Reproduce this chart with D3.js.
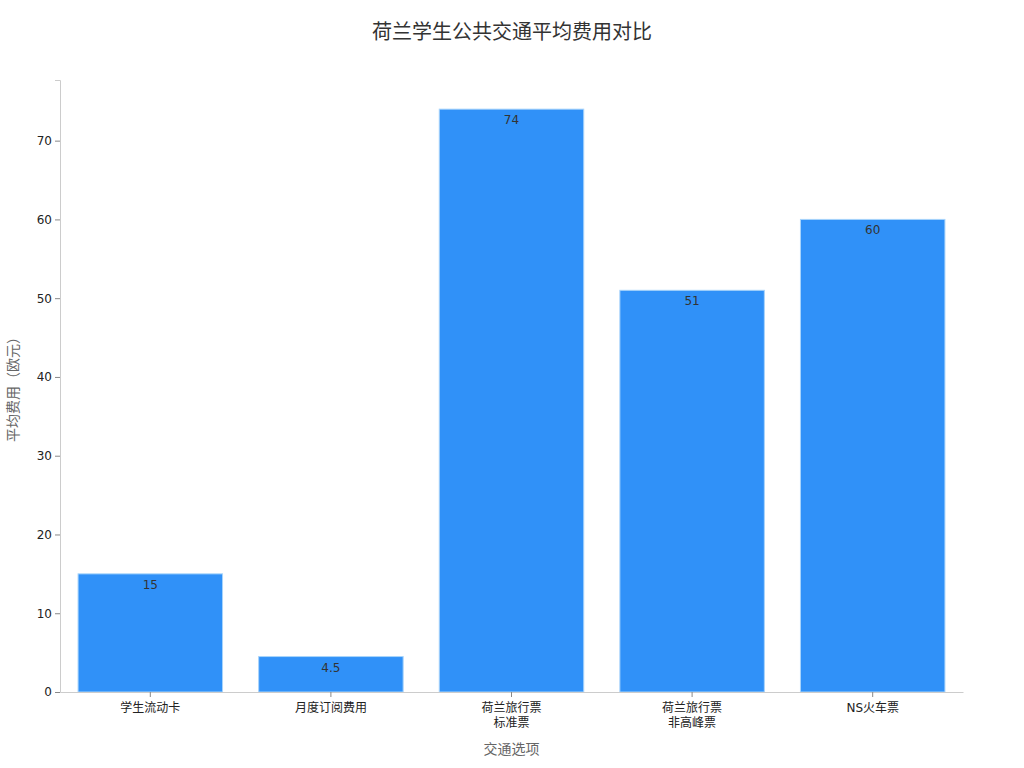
<!DOCTYPE html>
<html>
<head>
<meta charset="utf-8">
<script src="https://cdn.jsdelivr.net/npm/d3@7"></script>
<style>
  body { margin: 0; background: #fff; }
  svg text { font-family: "DejaVu Sans", "Noto Sans CJK SC", sans-serif; }
</style>
</head>
<body>
<div class="chart"></div>
<script>
// chart data
var categories = ["学生流动卡", "月度订阅费用", "荷兰旅行票\n标准票", "荷兰旅行票\n非高峰票", "NS火车票"];
var costs = [15, 4.5, 74, 51, 60];
var valueLabels = ["15", "4.5", "74", "51", "60"];
var yTicks = [0, 10, 20, 30, 40, 50, 60, 70];

var width = 1024;
var height = 768;
var margin = {top: 80, right: 61, bottom: 76, left: 60};

var svg = d3.select('.chart')
    .append('svg')
    .attr('width', width)
    .attr('height', height);

var x = d3.scaleBand()
    .domain(categories)
    .range([margin.left, width - margin.right])
    .paddingInner(0.2)
    .paddingOuter(0.1);

var y = d3.scaleLinear()
    .domain([0, d3.max(costs) * 1.05])
    .range([height - margin.bottom, margin.top]);

// title
svg.append('text')
    .attr('x', width / 2)
    .attr('y', 39)
    .attr('text-anchor', 'middle')
    .attr('fill', '#333')
    .style('font-size', '20px')
    .text('荷兰学生公共交通平均费用对比');

// bars
svg.append('g')
    .selectAll('rect')
    .data(costs)
    .enter()
        .append('rect')
        .attr('x', function(d, i){ return x(categories[i]); })
        .attr('y', function(d){ return y(d); })
        .attr('width', x.bandwidth())
        .attr('height', function(d){ return y(0) - y(d); })
        .attr('fill', '#3091f8')
        .attr('stroke', '#a8d4fb')
        .attr('stroke-width', 1);

// value labels
svg.append('g')
    .selectAll('text')
    .data(costs)
    .enter()
        .append('text')
        .attr('x', function(d, i){ return x(categories[i]) + x.bandwidth() / 2; })
        .attr('y', function(d){ return y(d) + 15; })
        .attr('text-anchor', 'middle')
        .attr('fill', '#333')
        .style('font-size', '12px')
        .text(function(d, i){ return valueLabels[i]; });

// y axis
var yAxis = svg.append('g')
    .attr('transform', 'translate(' + margin.left + ',0)')
    .call(d3.axisLeft(y).tickValues(yTicks).tickSize(5).tickPadding(3));
yAxis.select('.domain').attr('stroke', '#ccc');
yAxis.selectAll('.tick line').attr('stroke', '#888');
yAxis.selectAll('.tick text').attr('fill', '#222').style('font-size', '12px');

// x axis
var xAxis = svg.append('g')
    .attr('transform', 'translate(0,' + y(0) + ')')
    .call(d3.axisBottom(x).tickSize(5).tickSizeOuter(0).tickPadding(6));
xAxis.select('.domain').attr('stroke', '#ccc');
xAxis.selectAll('.tick line').attr('stroke', '#888');
xAxis.selectAll('.tick text')
    .attr('fill', '#222')
    .style('font-size', '12px')
    .each(function(d){
        var t = d3.select(this);
        var lines = d.split('\n');
        t.text(null);
        lines.forEach(function(line, k){
            t.append('tspan')
                .attr('x', 0)
                .attr('dy', k === 0 ? '0.71em' : '1.3em')
                .text(line);
        });
    });

// axis titles
svg.append('text')
    .attr('x', (margin.left + width - margin.right) / 2)
    .attr('y', 754)
    .attr('text-anchor', 'middle')
    .attr('fill', '#666')
    .style('font-size', '14px')
    .text('交通选项');

svg.append('text')
    .attr('transform', 'translate(18,' + ((margin.top + height - margin.bottom) / 2) + ') rotate(-90)')
    .attr('text-anchor', 'middle')
    .attr('fill', '#666')
    .style('font-size', '14px')
    .text('平均费用（欧元）');
</script>
</body>
</html>
